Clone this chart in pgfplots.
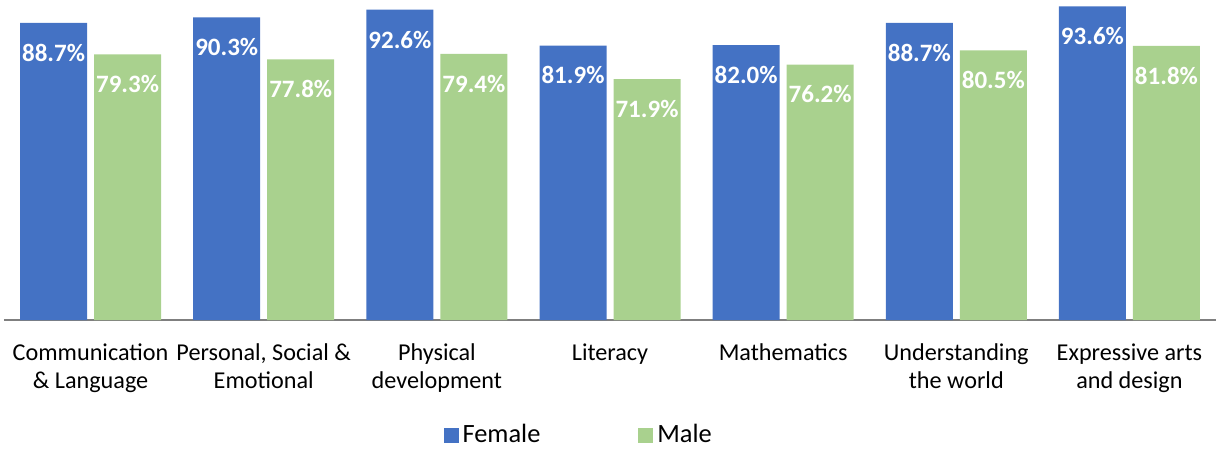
\documentclass[border=0pt]{standalone}
\usepackage{pgfplots}
\pgfplotsset{compat=1.18}
\usepackage{fontspec}
\setmainfont{Carlito}

\definecolor{female}{HTML}{4472C4}
\definecolor{male}{HTML}{A9D18E}
\definecolor{axisgray}{HTML}{7F7F7F}

\begin{document}
\begin{tikzpicture}
\begin{axis}[
    scale only axis,
    width=606pt, height=160pt,
    ybar=3.5pt, bar width=33.5pt,
    xmin=-0.5, xmax=6.5,
    ymin=0, ymax=95.5,
    axis y line=none,
    axis x line*=bottom,
    x axis line style={axisgray, line width=0.8pt},
    xtick=data,
    xticklabels={Communication\\\& Language, {Personal, Social \&\\Emotional}, Physical\\development, Literacy, Mathematics, Understanding\\the world, Expressive arts\\and design},
    major tick length=0pt,
    xticklabel style={align=center, font=\fontsize{12.1}{14}\selectfont, anchor=north, yshift=-8.5pt},
    /pgf/number format/assume math mode=true,
    nodes near coords={\pgfmathprintnumber[fixed,fixed zerofill,precision=1]{\pgfplotspointmeta}\%},
    nodes near coords style={white, font=\fontsize{12.5}{15}\selectfont\bfseries, anchor=north, yshift=-7pt},
    legend columns=2,
    legend style={draw=none, font=\fontsize{13.2}{15}\selectfont, at={(axis description cs:0.475,-0.36)}, anchor=center,
        /tikz/every even column/.append style={column sep=47pt}},
    legend image code/.code={\fill[#1] (0pt,-3.75pt) rectangle (7.5pt,3.75pt);},
    clip=false,
]
\addplot[fill=female, draw=none] coordinates {(0,88.7) (1,90.3) (2,92.6) (3,81.9) (4,82.0) (5,88.7) (6,93.6)};
\addplot[fill=male, draw=none] coordinates {(0,79.3) (1,77.8) (2,79.4) (3,71.9) (4,76.2) (5,80.5) (6,81.8)};
\legend{Female, Male}
\coordinate (sw) at (rel axis cs:0,0);
\coordinate (ne) at (rel axis cs:1,1);
\end{axis}
\pgfresetboundingbox
\path (sw) ++(-2pt,-64pt) coordinate (a);
\path (a) rectangle (ne);
\end{tikzpicture}
\end{document}
